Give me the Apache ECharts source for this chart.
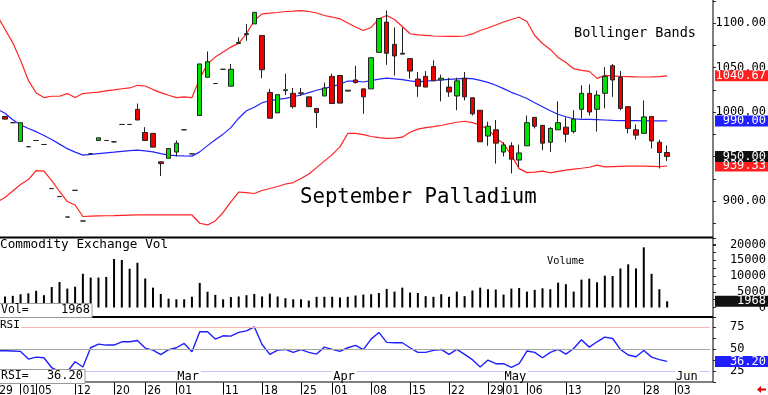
<!DOCTYPE html>
<html><head><meta charset="utf-8">
<script src="https://cdn.jsdelivr.net/npm/echarts/dist/echarts.min.js"></script>
<style>html,body{margin:0;padding:0;background:#fff}#c{width:768px;height:395px}</style>
</head><body><div id="c"></div><script>
const tradingDays = ['01-29','01-30','01-31','02-01','02-02','02-05','02-06','02-07','02-08','02-09','02-12','02-13','02-14','02-15','02-16','02-20','02-21','02-22','02-23','02-26','02-27','02-28','02-29','03-01','03-04','03-05','03-06','03-07','03-08','03-11','03-12','03-13','03-14','03-15','03-18','03-19','03-20','03-21','03-22','03-25','03-26','03-27','03-28','04-01','04-02','04-03','04-04','04-05','04-08','04-09','04-10','04-11','04-12','04-15','04-16','04-17','04-18','04-19','04-22','04-23','04-24','04-25','04-26','04-29','04-30','05-01','05-02','05-03','05-06','05-07','05-08','05-09','05-10','05-13','05-14','05-15','05-16','05-17','05-20','05-21','05-22','05-23','05-24','05-28','05-29','05-30','05-31','06-03','06-04','06-05','06-06','06-07'];
const labeledDays = ['01-29','02-01','02-05','02-12','02-20','02-26','03-01','03-11','03-18','03-25','04-01','04-08','04-15','04-22','04-29','05-01','05-06','05-13','05-20','05-28','06-03'];
const monthStarts = {'03-01':'Mar','04-01':'Apr','05-01':'May','06-03':'Jun'};

const open = [null,995,988,967,961,968,963.5,914,905,882,912,877.5,953,968,968,966.5,986,986,1003,977,976,944,948,955,980,953,996,1039,1032,1048,1029,1077,1088,1099,1086,1022,999,1024,1021,1021.5,1017,1004,1018,1040,1041,1023.5,1036,1026,1026,1067,1101,1076,1065,1060,1037,1040,1051,1036,1028,1018,1038,1016,1002,973,980,955,962,946,962,994,985,966,980,983,978,1003,1021,1003,1021,1052,1039,1006,980,976,995,966,954.5];
const high = [null,995.5,988,988,961,968,963.5,914,905,882,912,877.5,953,971,968,967,986,986,1009.5,983,976,944,959,968,980,953,1054,1068,1032,1048,1054,1084,1099,1112,1086,1026,1020,1043,1027,1027,1017,1004,1033,1043,1041,1024.5,1052,1026,1061,1105,1114,1095,1095,1060,1045,1046,1058,1042,1038.5,1038.5,1045,1016,1002,989,991,966,966,963.5,996,994,985,983,1012,994,1002,1030,1031,1024,1050.5,1054,1046,1006,986,1013,995,969,962.5];
const low = [null,991.5,988,967,961,968,963.5,914,905,882,912,877.5,953,968,968,965.5,986,986,991,968,960.5,928,948,950,980,953,996,1039,1032,1048,1029,1077,1080,1099,1038,993,999,1019,1004,1018,1006,982,1018,1009.5,1010,1023.5,1032,998,1026,1067,1053,1041,1065,1037.5,1017,1028,1035,1012,1017,1002,1013,996,966.5,962,942,950,931,938,962,981.5,957,955,980,966,976,993,996,978,1004,1017,1002,976,969,976,959,936.5,945];
const close = [null,992,988,988,961,968,963.5,914,905,882,912,877.5,953,971,968,966.5,986,986,991,968,960.5,942,959,965,980,953,1054,1056.5,1032,1048,1048,1078,1087,1112,1047.5,993,1019.5,1025,1006,1021,1006,999.5,1027,1009.5,1010,1024.5,1033,1017,1061,1105,1066,1063,1066,1046,1029,1028,1035,1038,1022.5,1035,1017,998,966.5,984,965,963,947,954,988,984,965,981.5,988,975,992,1021,1000,1019,1040,1036,1004,981.5,974,994.5,967.5,954.5,950];
const volume = [null,3500,3700,4200,4500,5300,3900,6500,8100,6000,6600,10700,9500,9500,9700,15400,15100,12300,14200,9200,6300,4300,2800,2600,2600,3400,7800,5000,4000,2600,3300,3500,3900,4300,3500,4400,3500,2950,2600,2600,2200,3400,3400,3400,3200,3400,3800,4100,4200,4600,5900,5050,6300,4750,4600,3600,3400,4200,3400,5050,3600,5400,6300,5800,5700,4100,6000,6200,5050,5600,6100,5800,7900,7400,5050,8850,9150,8000,10100,10000,12400,13700,12400,19100,10700,5800,1968];
const upperBand = [1108.3,1092.9,1077.7,1058.0,1035.6,1021.3,1016.2,1017.7,1017.7,1020.7,1016.2,1020.7,1021.6,1022.4,1023.8,1024.9,1026.1,1027.0,1030.0,1029.2,1025.2,1021.8,1018.8,1016.2,1016.9,1016.2,1037.5,1054.3,1061.7,1067.3,1072.9,1077.4,1087.9,1102.8,1110.3,1111.0,1111.8,1112.9,1113.4,1114.0,1112.9,1111.2,1108.4,1106.7,1104.7,1100.0,1095.5,1091.6,1095.0,1104.7,1108.4,1103.9,1096.1,1087.9,1086.6,1086.0,1085.4,1085.1,1084.9,1084.9,1085.4,1087.7,1091.6,1094.4,1097.8,1101.1,1103.9,1106.5,1101.7,1086.0,1077.0,1070.3,1061.3,1055.7,1048.7,1046.8,1045.7,1037.8,1041.2,1040.6,1040.1,1039.8,1039.5,1039.3,1039.5,1039.8,1040.67];
const middleBand = [1003.1,998.6,991.3,985.7,981.5,977.9,973.6,969.1,963.9,958.8,954.9,951.5,952.4,953.3,954.1,954.9,955.8,956.5,957.1,956.3,955.2,953.2,951.5,951.0,950.6,950.4,955.2,962.2,968.9,975.1,982.4,993.0,1001.4,1005.3,1010.4,1012.8,1014.1,1015.4,1017.1,1019.1,1021.8,1024.4,1026.6,1028.6,1031.1,1034.8,1034.7,1033.7,1035.2,1036.9,1038.0,1037.3,1036.4,1035.0,1033.9,1034.7,1035.4,1036.0,1036.7,1037.3,1037.8,1037.5,1035.6,1033.3,1030.0,1026.3,1022.1,1018.8,1015.1,1010.4,1005.9,1001.4,997.5,994.7,992.4,991.8,991.7,991.4,991.0,990.6,990.4,990.3,990.2,990.1,990.0,990.0,990.0];
const lowerBand = [898.9,903.9,911.2,918.5,924.1,934.2,933.6,923.0,910.7,899.4,895.5,882.6,882.9,883.2,883.4,883.6,883.9,884.2,884.3,884.3,884.3,884.3,884.3,884.3,884.3,884.3,875.0,873.1,877.6,887.1,898.9,910.1,909.5,908.4,911.8,914.0,916.3,919.1,920.7,925.2,930.3,937.5,944.8,952.1,960.8,975.9,975.9,974.5,972.5,971.2,970.4,970.6,971.7,977.3,980.7,982.4,983.5,984.8,986.8,988.5,989.6,988.0,985.2,980.7,971.2,964.4,951.5,936.4,931.9,932.5,933.6,931.7,933.3,934.7,935.9,936.8,937.9,940.3,938.4,938.7,939.0,939.2,939.2,939.2,939.0,938.7,939.33];
const rsi = [48.1,48.1,47.8,47.4,38.8,41.0,40.3,29.1,24.6,24.6,35.8,29.9,51.5,55.6,54.5,54.5,58.2,58.2,59.7,51.1,48.9,43.7,49.3,51.5,56.3,47.0,69.4,69.4,61.2,64.9,64.5,68.7,70.5,75.0,55.2,44.0,48.9,49.6,46.3,49.3,46.3,44.4,52.2,49.6,47.4,51.5,54.1,49.3,61.2,68.7,57.5,57.1,57.1,51.5,46.3,46.3,48.5,49.6,44.0,49.6,44.0,38.1,29.9,37.7,33.6,33.6,29.5,33.6,47.8,46.3,40.3,46.3,49.6,44.4,50.7,60.4,52.2,58.2,63.4,61.9,49.6,43.3,41.4,48.5,41.0,38.1,36.2];

const MONO = '"DejaVu Sans Mono", monospace';
const NARROW = '"Liberation Sans Narrow", "DejaVu Sans Condensed", "Liberation Sans", sans-serif';

const candles = open.map((o, i) => o === null ? '-' : [o, close[i], low[i], high[i]]);
const volData = volume.map(v => v === null ? '-' : v);
const isLabeled = i => labeledDays.indexOf(tradingDays[i]) >= 0;
const isMonth = i => monthStarts[tradingDays[i]] !== undefined;

const GL = -6.7, GW = 716.7;
const option = {
  animation: false,
  backgroundColor: '#fff',
  grid: [
    {left: GL, top: -21.5, width: GW, height: 267, containLabel: false, outerBoundsMode: 'none'},
    {left: GL, top: 238.2, width: GW, height: 69.3, containLabel: false, outerBoundsMode: 'none'},
    {left: GL, top: 317, width: GW, height: 65.5, containLabel: false, outerBoundsMode: 'none'}
  ],
  xAxis: [
    {type: 'category', gridIndex: 0, data: tradingDays, show: false},
    {type: 'category', gridIndex: 1, data: tradingDays, show: false},
    {type: 'category', gridIndex: 2, data: tradingDays, position: 'bottom',
     axisLine: {show: false}, splitLine: {show: false},
     axisTick: {show: true, interval: i => isLabeled(i), alignWithLabel: true, length: 12, lineStyle: {color: '#000', width: 1}},
     axisLabel: {interval: i => isLabeled(i), formatter: v => v.slice(3), align: 'left', margin: 2,
                 fontFamily: NARROW, fontSize: 12, color: '#000', padding: [0, 0, 0, 2]}},
    {type: 'category', gridIndex: 2, data: tradingDays, position: 'bottom', z: 10,
     axisLine: {show: false}, axisTick: {show: false}, splitLine: {show: false},
     axisLabel: {inside: true, interval: i => isMonth(i), formatter: v => monthStarts[v] || '', align: 'left', margin: 0,
                 fontFamily: MONO, fontSize: 12, color: '#000', backgroundColor: '#fff', padding: [1, 2, 0, 1]}}
  ],
  yAxis: [
    {type: 'value', gridIndex: 0, position: 'right', offset: 3, min: 850, max: 1150, interval: 25,
     axisLine: {show: false}, splitLine: {show: false}, axisTick: {show: true, length: 3, lineStyle: {color: '#333'}},
     axisLabel: {formatter: v => (v % 50 === 0 && v >= 900 && v <= 1100) ? v.toFixed(2) : '', align: 'right', margin: 53,
                 fontFamily: MONO, fontSize: 12, color: '#000'}},
    {type: 'value', gridIndex: 1, position: 'right', offset: 3, min: 0, max: 22000, interval: 2500,
     axisLine: {show: false}, splitLine: {show: false}, axisTick: {show: true, length: 3, lineStyle: {color: '#333'}},
     axisLabel: {formatter: v => (v % 5000 === 0 && v <= 20000) ? String(v) : '', align: 'right', margin: 53,
                 fontFamily: MONO, fontSize: 12, color: '#000'}},
    {type: 'value', gridIndex: 2, position: 'right', offset: 3, min: 12.5, max: 86, interval: 12.5,
     axisLine: {show: false}, splitLine: {show: false}, axisTick: {show: true, length: 3, lineStyle: {color: '#333'}},
     axisLabel: {formatter: v => (v === 25 || v === 50 || v === 75) ? String(v) : '', align: 'left', margin: 17,
                 fontFamily: MONO, fontSize: 12, color: '#000'}}
  ],
  series: [
    {type: 'line', xAxisIndex: 0, yAxisIndex: 0, data: upperBand, symbol: 'none', silent: true, z: 2, lineStyle: {color: '#ff2222', width: 1.2}},
    {type: 'line', xAxisIndex: 0, yAxisIndex: 0, data: middleBand, symbol: 'none', silent: true, z: 2, lineStyle: {color: '#2222ff', width: 1.2}},
    {type: 'line', xAxisIndex: 0, yAxisIndex: 0, data: lowerBand, symbol: 'none', silent: true, z: 2, lineStyle: {color: '#ff2222', width: 1.2}},
    {type: 'candlestick', xAxisIndex: 0, yAxisIndex: 0, data: candles, barWidth: 5, z: 3,
     itemStyle: {color: '#00e000', color0: '#ee0000', borderColor: '#222', borderColor0: '#222', borderColorDoji: '#222', borderWidth: 1}},
    {type: 'bar', xAxisIndex: 1, yAxisIndex: 1, data: volData, barWidth: 2, itemStyle: {color: '#000'}},
    {type: 'line', xAxisIndex: 2, yAxisIndex: 2, data: rsi, symbol: 'none', z: 3, lineStyle: {color: '#1f1fff', width: 1.4},
     markLine: {silent: true, symbol: 'none', label: {show: false}, animation: false,
       data: [
         {yAxis: 75, lineStyle: {color: '#ffb4b4', width: 1, type: 'solid'}},
         {yAxis: 50, lineStyle: {color: '#a8a8a8', width: 1, type: 'solid'}},
         {yAxis: 25, lineStyle: {color: '#c4c4ff', width: 1, type: 'solid'}}
       ]}}
  ]
};

const chart = echarts.init(document.getElementById('c'), null, {renderer: 'canvas'});
chart.setOption(option);

const last = close.length - 1;
function txt(text, x, y, size, align, fill, extra) {
  return Object.assign({type: 'text', x: x, y: y, z: 101,
    style: {text: text, fill: fill || '#000', font: size + 'px ' + MONO, textAlign: align || 'left', align: align || 'left',
            textVerticalAlign: 'middle', verticalAlign: 'middle'}}, extra || {});
}
function rect(x, y, w, h, fill, stroke, z) {
  return {type: 'rect', z: z || 100, shape: {x: x, y: y, width: w, height: h},
          style: {fill: fill, stroke: stroke || null, lineWidth: stroke ? 1 : 0}};
}
const boxes = [
  {axis: 0, v: upperBand[last], t: upperBand[last].toFixed(2), bg: '#ff1f1f'},
  {axis: 0, v: middleBand[last], t: middleBand[last].toFixed(2), bg: '#1f1fff'},
  {axis: 0, v: lowerBand[last], t: lowerBand[last].toFixed(2), bg: '#ff1f1f'},
  {axis: 0, v: close[last], t: close[last].toFixed(2), bg: '#111'},
  {axis: 1, v: volume[last], t: String(volume[last]), bg: '#111'},
  {axis: 2, v: rsi[last], t: rsi[last].toFixed(2), bg: '#1f1fff'}
];
const g = [
  rect(0, 236.5, 713, 2, '#000'),
  rect(0, 316, 713, 2, '#000'),
  rect(0, 381.5, 713, 1, '#000'),
  rect(712.5, 0, 1, 382, '#000'),
  txt('Bollinger Bands', 574, 33, 13.5),
  txt('September Palladium', 300, 198, 20.7),
  txt('Commodity Exchange Vol', 0, 244.5, 12.7),
  txt('Volume', 547, 261, 10.3),
  rect(0, 319, 21, 12, '#fff'),
  txt('RSI', 0, 325.5, 11),
  rect(-1, 303.5, 93, 14, '#fff', '#999'),
  txt('Vol=', 1, 310, 11.5),
  txt(String(volume[last]), 90, 310, 12, 'right'),
  rect(-1, 369.5, 86, 14, '#fff', '#999'),
  txt('RSI=', 1, 376, 11.5),
  txt(rsi[last].toFixed(2), 83, 376, 12, 'right'),
  {type: 'polygon', z: 100, shape: {points: [[757, 389.5], [761, 386], [761, 388.5], [766, 388.5], [766, 390.5], [761, 390.5], [761, 393]]}, style: {fill: '#e00000'}}
];
boxes.forEach(b => {
  const yc = chart.convertToPixel({yAxisIndex: b.axis}, b.v);
  g.push(rect(715, yc - 5.5, 53, 11, b.bg, null, 102));
  g.push(txt(b.t, 766, yc, 12, 'right', '#fff', {z: 103}));
});
chart.setOption({graphic: g});
</script></body></html>
